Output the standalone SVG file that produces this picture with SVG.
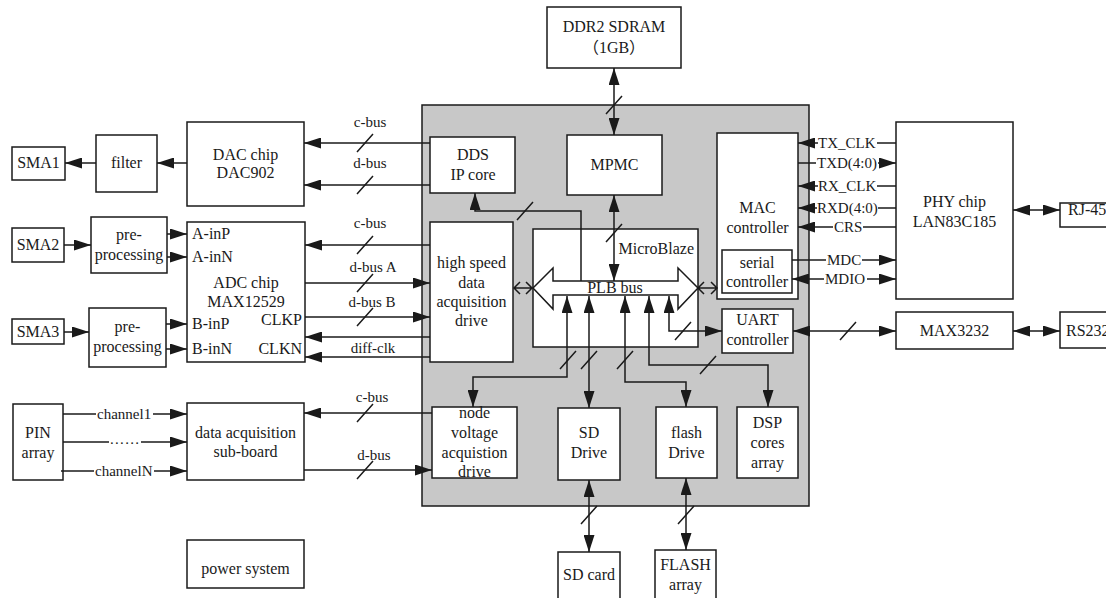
<svg xmlns="http://www.w3.org/2000/svg" width="1106" height="598" viewBox="0 0 1106 598" font-family="Liberation Serif, serif">
<defs>
<style>
.t{font-family:"Liberation Serif",serif;font-size:16px;text-anchor:middle;fill:#1a1a1a}
.cjk{font-family:"Liberation Serif","Noto Sans CJK SC",serif}
.l{font-size:15px}
.s{text-anchor:start}
.e{text-anchor:end}
.b{fill:#fff;stroke:#1a1a1a;stroke-width:1.5}
.c{fill:none;stroke:#1a1a1a;stroke-width:1.5}
.a{marker-end:url(#ah)}
.d{marker-start:url(#ah);marker-end:url(#ah)}
.st{marker-start:url(#ah)}
</style>
<marker id="ah" viewBox="0 0 17 11" refX="17" refY="5.5" markerWidth="17" markerHeight="11" markerUnits="userSpaceOnUse" orient="auto-start-reverse"><path d="M0,0L17,5.5L0,11z" fill="#1a1a1a"/></marker>
</defs>
<rect width="1106" height="598" fill="#fff"/>
<g id="fpga"><rect x="422" y="105" width="387" height="401" fill="#c8c8c8" stroke="#1a1a1a" stroke-width="1.5"/></g>

<g id="ddr2"><rect class="b" x="547" y="7" width="134" height="61"/><text class="t" x="614" y="32">DDR2 SDRAM</text><text class="t cjk" x="614" y="53">（1GB）</text></g>
<g id="mpmc"><rect class="b" x="567" y="135" width="95" height="60"/><text class="t" x="614.5" y="170">MPMC</text></g>
<g id="dds"><rect class="b" x="430" y="137" width="85" height="56"/><text class="t" x="473" y="160">DDS</text><text class="t" x="473" y="180">IP core</text></g>
<g id="mac"><rect class="b" x="717" y="133" width="81" height="166"/><text class="t" x="757.5" y="213">MAC</text><text class="t" x="757.5" y="233">controller</text></g>
<g id="serial"><rect class="b" x="722" y="250" width="70" height="43"/><text class="t" x="757" y="268">serial</text><text class="t" x="757" y="287">controller</text></g>
<g id="uart"><rect class="b" x="722" y="309" width="71" height="44"/><text class="t" x="757.5" y="325">UART</text><text class="t" x="757.5" y="345">controller</text></g>
<g id="hsda"><rect class="b" x="430" y="222" width="83" height="140"/><text class="t" x="471.5" y="268">high speed</text><text class="t" x="471.5" y="288">data</text><text class="t" x="471.5" y="307">acquisition</text><text class="t" x="471.5" y="326">drive</text></g>
<g id="microblaze"><rect class="b" x="533" y="229" width="165" height="118"/><text class="t e" x="694" y="254">MicroBlaze</text></g>
<g id="plb"><polygon class="b" points="533,288 553,268 553,281 678,281 678,268 698,288 678,309 678,295 553,295 553,309"/><text class="t" x="615" y="293">PLB bus</text></g>
<g id="nvad"><rect class="b" x="432" y="407" width="85" height="71"/><text class="t" x="474.5" y="418">node</text><text class="t" x="474.5" y="438">voltage</text><text class="t" x="474.5" y="458">acquistion</text><text class="t" x="474.5" y="477">drive</text></g>
<g id="sddrive"><rect class="b" x="558" y="408" width="62" height="72"/><text class="t" x="589" y="438">SD</text><text class="t" x="589" y="458">Drive</text></g>
<g id="flashdrive"><rect class="b" x="656" y="407" width="61" height="71"/><text class="t" x="686.5" y="438">flash</text><text class="t" x="686.5" y="458">Drive</text></g>
<g id="dsp"><rect class="b" x="737" y="407" width="61" height="71"/><text class="t" x="767.5" y="428">DSP</text><text class="t" x="767.5" y="448">cores</text><text class="t" x="767.5" y="468">array</text></g>
<g id="sdcard"><rect class="b" x="558" y="552" width="62" height="50"/><text class="t" x="589" y="580">SD card</text></g>
<g id="flasharray"><rect class="b" x="655" y="550" width="61" height="52"/><text class="t" x="685.5" y="570">FLASH</text><text class="t" x="685.5" y="590">array</text></g>

<g id="dac"><rect class="b" x="187" y="122" width="117" height="84"/><text class="t" x="245.5" y="160">DAC chip</text><text class="t" x="245.5" y="178">DAC902</text></g>
<g id="filter"><rect class="b" x="96" y="135" width="61" height="57"/><text class="t" x="126.5" y="168">filter</text></g>
<g id="sma1"><rect class="b" x="12" y="147" width="53" height="33"/><text class="t" x="38.5" y="168">SMA1</text></g>
<g id="sma2"><rect class="b" x="12" y="228" width="52" height="34"/><text class="t" x="38" y="250">SMA2</text></g>
<g id="pre1"><rect class="b" x="91" y="217" width="76" height="56"/><text class="t" x="129" y="240">pre-</text><text class="t" x="129" y="260">processing</text></g>
<g id="adc"><rect class="b" x="187" y="222" width="118" height="140"/><text class="t" x="246" y="288">ADC chip</text><text class="t" x="246" y="307">MAX12529</text><text class="t s" x="192" y="239">A-inP</text><text class="t s" x="192" y="262">A-inN</text><text class="t s" x="192" y="329">B-inP</text><text class="t s" x="192" y="354">B-inN</text><text class="t e" x="302" y="325">CLKP</text><text class="t e" x="302" y="354">CLKN</text></g>
<g id="sma3"><rect class="b" x="12" y="319" width="52" height="25"/><text class="t" x="38" y="337">SMA3</text></g>
<g id="pre2"><rect class="b" x="89" y="308" width="77" height="59"/><text class="t" x="127.5" y="332">pre-</text><text class="t" x="127.5" y="352">processing</text></g>
<g id="pin"><rect class="b" x="13" y="404" width="50" height="76"/><text class="t" x="38" y="438">PIN</text><text class="t" x="38" y="458">array</text></g>
<g id="subboard"><rect class="b" x="187" y="403" width="117" height="77"/><text class="t" x="245.5" y="438">data acquisition</text><text class="t" x="245.5" y="457">sub-board</text></g>
<g id="power"><rect class="b" x="187" y="540" width="117" height="48"/><text class="t" x="245.5" y="574">power system</text></g>
<g id="phy"><rect class="b" x="896" y="122" width="117" height="177"/><text class="t" x="954.5" y="207">PHY chip</text><text class="t" x="954.5" y="227">LAN83C185</text></g>
<g id="max3232"><rect class="b" x="896" y="312" width="117" height="37"/><text class="t" x="954.5" y="336">MAX3232</text></g>
<g id="rj45"><rect class="b" x="1060" y="203" width="60" height="24"/><text class="t s" x="1068" y="215">RJ-45</text></g>
<g id="rs232"><rect class="b" x="1060" y="312" width="60" height="36"/><text class="t s" x="1066" y="336">RS232</text></g>

<g id="connectors" class="c">
<path class="a" d="M96,163H65"/>
<path class="a" d="M187,163H157"/>
<path class="a" d="M430,143H304"/>
<path class="a" d="M430,185H304"/>
<path class="a" d="M64,245H91"/>
<path class="a" d="M167,234H187"/>
<path class="a" d="M167,257H187"/>
<path class="a" d="M64,332H89"/>
<path class="a" d="M166,324H187"/>
<path class="a" d="M166,349H187"/>
<path class="a" d="M430,245H305"/>
<path class="a" d="M305,283H430"/>
<path class="a" d="M305,317H430"/>
<path class="a" d="M430,337H305"/>
<path class="a" d="M430,357H305"/>
<path d="M63,414H96"/><path class="a" d="M153,414H187"/>
<path d="M63,442H109"/><path class="a" d="M141,442H187"/>
<path d="M61,471H94"/><path class="a" d="M154,471H187"/>
<path class="a" d="M432,413H304"/>
<path class="a" d="M304,470H432"/>
<path class="d" d="M614,68V135"/>
<path class="d" d="M614,195V281"/>
<path class="a" d="M581,281V211H475V193"/>
<path d="M520,282L514,288L520,294M514,288H532M526,282L532,288L526,294"/>
<path d="M704,282L698,288L704,294M698,288H717M711,282L717,288L711,294"/>
<path class="d" d="M567,296V377H473V407"/>
<path class="d" d="M589,296V408"/>
<path class="d" d="M625,296V382H686V407"/>
<path class="d" d="M649,296V365H768V407"/>
<path class="d" d="M669,296V331H722"/>
<path class="d" d="M793,331H896"/>
<path class="d" d="M1013,331H1060"/>
<path class="d" d="M1013,210H1060"/>
<path class="d" d="M589,480V552"/>
<path class="d" d="M686,478V550"/>
<path class="st" d="M798,143H818"/><path d="M877,143H896"/>
<path d="M798,163H816"/><path class="a" d="M878,163H896"/>
<path class="st" d="M798,186H818"/><path d="M877,186H896"/>
<path class="st" d="M798,208H817"/><path d="M878,208H896"/>
<path class="st" d="M798,227H833"/><path d="M863,227H896"/>
<path d="M792,260H826"/><path class="a" d="M862,260H896"/>
<path class="st" d="M792,279H824"/><path class="a" d="M867,279H896"/>
<path d="M357,152L373,134M357,194L373,176M357,254L373,236M357,292L373,274M357,326L373,308M357,422L373,404M357,479L373,461M606,114L622,96M606,242L622,224M517,220L533,202M560,369L576,351M581,369L597,351M617,369L633,351M700,374L716,356M675,340L691,322M840,340L856,322M581,524L597,506M678,524L694,506"/>
</g>
<g id="labels">
<text class="t l" x="370" y="127">c-bus</text>
<text class="t l" x="370" y="168">d-bus</text>
<text class="t l" x="370" y="228">c-bus</text>
<text class="t l" x="373" y="272">d-bus A</text>
<text class="t l" x="372" y="307">d-bus B</text>
<text class="t l" x="373" y="353">diff-clk</text>
<text class="t l" x="372" y="402">c-bus</text>
<text class="t l" x="374" y="460">d-bus</text>
<text class="t l s" x="97" y="419">channel1</text>
<text class="t l s" x="110" y="444" letter-spacing="1.3">......</text>
<text class="t l s" x="95" y="476">channelN</text>
<text class="t l s" x="818" y="148">TX_CLK</text>
<text class="t l s" x="817" y="168">TXD(4:0)</text>
<text class="t l s" x="818" y="191">RX_CLK</text>
<text class="t l s" x="817" y="213">RXD(4:0)</text>
<text class="t l s" x="834" y="232">CRS</text>
<text class="t l s" x="827" y="265">MDC</text>
<text class="t l s" x="825" y="284">MDIO</text>
</g>
</svg>
